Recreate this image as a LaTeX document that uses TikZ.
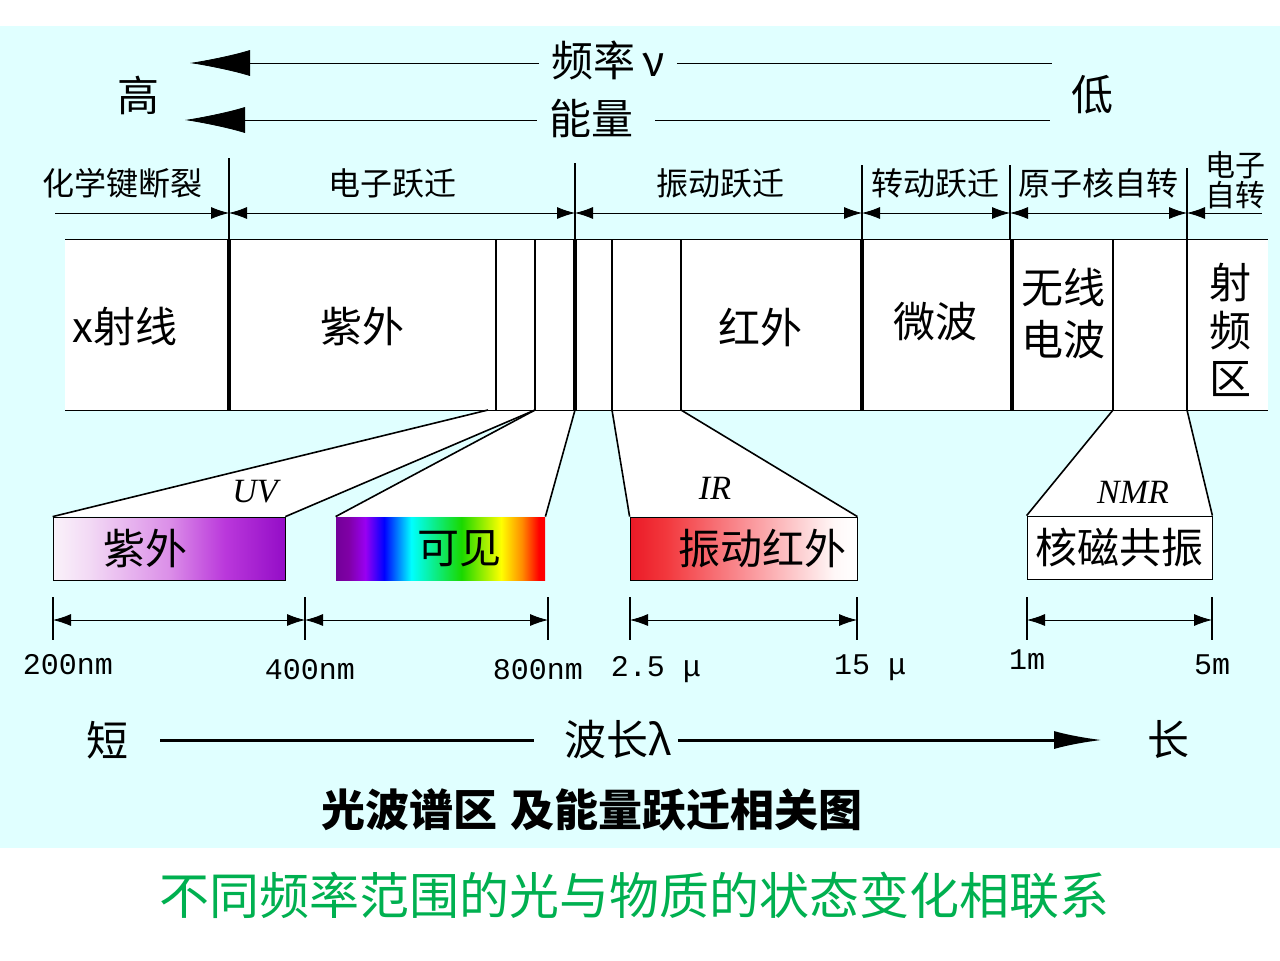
\documentclass[tikz,border=0pt]{standalone}
\usepackage{fontspec}
\setmainfont{Noto Sans CJK SC}
\newfontfamily\numfont{Liberation Mono}
\newfontfamily\tagfont{Liberation Serif}
\usetikzlibrary{arrows.meta,positioning}
\newcommand{\pxUnit}{0.5pt}
\definecolor{skyback}{RGB}{224,255,255}
\definecolor{notegreen}{RGB}{0,176,80}
\pgfdeclarelayer{background}
\pgfsetlayers{background,main}
\pgfdeclarehorizontalshading{uvShade}{100bp}{rgb(0bp)=(0.98,0.95,0.98); rgb(25bp)=(0.98,0.95,0.98); rgb(33bp)=(0.95,0.85,0.96); rgb(50bp)=(0.86,0.56,0.91); rgb(62bp)=(0.73,0.22,0.86); rgb(75bp)=(0.58,0.05,0.78); rgb(100bp)=(0.58,0.05,0.78)}
\pgfdeclarehorizontalshading{visShade}{100bp}{rgb(0bp)=(0.45,0,0.6); rgb(25bp)=(0.45,0,0.6); rgb(28bp)=(0.5,0,0.65); rgb(32bp)=(0.6,0,0.95); rgb(36.5bp)=(0,0,1); rgb(43bp)=(0,1,1); rgb(55bp)=(0.1,0.85,0); rgb(64.5bp)=(1,1,0); rgb(69.5bp)=(1,0.55,0); rgb(73.5bp)=(1,0,0); rgb(100bp)=(1,0,0)}
\pgfdeclarehorizontalshading{irShade}{100bp}{rgb(0bp)=(0.92,0.1,0.15); rgb(25bp)=(0.92,0.1,0.15); rgb(33bp)=(0.95,0.22,0.24); rgb(50bp)=(0.98,0.56,0.58); rgb(70bp)=(1,0.97,0.97); rgb(75bp)=(1,1,1); rgb(100bp)=(1,1,1)}

\begin{document}
\begin{tikzpicture}[x=\pxUnit, y=-\pxUnit, line width=1pt,
		every node/.style={inner sep=0pt},
		word/.style={font=\fontsize{21}{26}\selectfont},
		section/.style={font=\fontsize{16}{15}\selectfont, align=center},
		tagtext/.style={font=\tagfont\itshape\fontsize{17}{17}\selectfont},
		numtext/.style={font=\numfont\fontsize{15}{15}\selectfont},
		band/.style={draw, minimum height=31.5pt, font=\fontsize{21}{26}\selectfont},
		thinwall/.style={line width=0.8pt},
		thickwall/.style={line width=2.2pt},
		dimline/.style={{Latex[length=9pt,width=6pt]}-{Latex[length=9pt,width=6pt]}},
		dimright/.style={-{Latex[length=9pt,width=6pt]}},
		dimleft/.style={{Latex[length=9pt,width=6pt]}-},
		bigtip/.style={-{Latex[length=30pt,width=13pt]}}]
	\useasboundingbox (0,0) rectangle (1280,960);
	\begin{pgfonlayer}{background}
		\fill[white] (0,0) rectangle (1280,960);
		\fill[skyback] (0,26) rectangle (1280,848);
		\fill[white] (65,239) rectangle (1268,410);
	\end{pgfonlayer}

	% frequency and energy
	\node[word] (high) at (138,95) {高};
	\node[word] (low) at (1092,95) {低};
	\node[word, inner sep=6pt] (freq) at (608,60) {频率\,ν};
	\node[word, inner sep=6pt] (energy) at (591,118) {能量};
	\coordinate (freqtip) at (190,63);
	\coordinate (freqend) at (1052,63);
	\coordinate (energytip) at (185,120);
	\coordinate (energyend) at (1050,120);
	\draw[bigtip] (freq.west |- freqtip) -- (freqtip);
	\draw (freq.east |- freqend) -- (freqend);
	\draw[bigtip] (energy.west |- energytip) -- (energytip);
	\draw ([xshift=5pt]energy.east |- energyend) -- (energyend);

	% transitions
	\foreach \x/\top in {229/158,575/163,862/165,1010/165,1187/168}
		\draw[thinwall] (\x,\top) -- (\x,239);
	\foreach \n/\x in {0/55,1/229,2/575,3/862,4/1010,5/1187,6/1262}
		\coordinate (a\n) at (\x,213);
	\draw[dimright] (a0) -- (a1);
	\foreach \i/\j in {1/2,2/3,3/4,4/5}
		\draw[dimline] (a\i) -- (a\j);
	\draw[dimleft] (a5) -- (a6);
	\node[section] (bond) at (122,183) {化学键断裂};
	\node[section] (elec) at (392,183) {电子跃迁};
	\node[section] (vib) at (720,183) {振动跃迁};
	\node[section] (rot) at (935,183) {转动跃迁};
	\node[section] (nucspin) at (1098,183) {原子核自转};
	\node[section, font=\fontsize{15}{15}\selectfont] (elecspin) at (1235,180) {电子\\自转};

	% spectrum bar
	\draw (65,239) -- (1268,239);
	\draw (65,410) -- (1268,410);
	\foreach \x in {229,575,862,1012}
		\draw[thickwall] (\x,239) -- (\x,410);
	\foreach \x in {496,535,612,681,1113,1187}
		\draw[thinwall] (\x,239) -- (\x,410);
	\node[word] (xray) at (125,327) {x射线};
	\node[word] (uv) at (362,327) {紫外};
	\node[word] (ir) at (760,327) {红外};
	\node[word] (micro) at (935,322) {微波};
	\node[word, align=center, font=\fontsize{21}{26}\selectfont] (radio) at (1063,314) {无线\\电波};
	\node[word, align=center, font=\fontsize{21}{24}\selectfont] (rf) at (1230,330) {射\\频\\区};

	% enlarged bands
	\node[band, minimum width=116pt, shading=uvShade] (uvbox) at (169,548.5) {紫外\hspace*{24pt}};
	\node[band, draw=none, minimum width=104.5pt, shading=visShade] (visbox) at (440.5,548.5) {\hspace*{19pt}可见};
	\node[band, minimum width=113.5pt, shading=irShade] (irbox) at (743.5,548.5) {\hspace*{19pt}振动红外};
	\node[band, minimum width=92.5pt, fill=white] (nmrbox) at (1119.5,547.5) {核磁共振};
	\coordinate (u0) at (488,410);
	\coordinate (u1) at (535,410);
	\coordinate (v1) at (575,410);
	\coordinate (i0) at (612,410);
	\coordinate (i1) at (681,410);
	\coordinate (n0) at (1113,410);
	\coordinate (n1) at (1187,410);
	\begin{pgfonlayer}{background}
		\fill[white] (u0) -- (u1) -- (uvbox.north east) -- (uvbox.north west) -- cycle;
		\fill[white] (u1) -- (v1) -- (visbox.north east) -- (visbox.north west) -- cycle;
		\fill[white] (i0) -- (i1) -- (irbox.north east) -- (irbox.north west) -- cycle;
		\fill[white] (n0) -- (n1) -- (nmrbox.north east) -- (nmrbox.north west) -- cycle;
	\end{pgfonlayer}
	\draw[thinwall] (u0) -- (uvbox.north west);
	\draw[thinwall] (u1) -- (uvbox.north east);
	\draw[thinwall] (u1) -- (visbox.north west);
	\draw[thinwall] (v1) -- (visbox.north east);
	\draw[thinwall] (i0) -- (irbox.north west);
	\draw[thinwall] (i1) -- (irbox.north east);
	\draw[thinwall] (n0) -- (nmrbox.north west);
	\draw[thinwall] (n1) -- (nmrbox.north east);
	\node[tagtext] (uvtag) at (255,492) {UV};
	\node[tagtext] (irtag) at (715,488) {IR};
	\node[tagtext] (nmrtag) at (1133,492) {NMR};

	% wavelength ranges
	\foreach \x in {53,305,548,630,857,1027,1212} {
		\draw[thinwall] (\x,597) -- (\x,640);
		\coordinate (d\x) at (\x,620);
	}
	\draw[dimline] (d53) -- (d305);
	\draw[dimline] (d305) -- (d548);
	\draw[dimline] (d630) -- (d857);
	\draw[dimline] (d1027) -- (d1212);
	\node[numtext] (w200) at (68,665) {200nm};
	\node[numtext] (w400) at (310,670) {400nm};
	\node[numtext] (w800) at (538,670) {800nm};
	\node[numtext] (w25) at (656,670) {2.5 μ};
	\node[numtext] (w15) at (870,668) {15 μ};
	\node[numtext] (w1m) at (1027,660) {1m};
	\node[numtext] (w5m) at (1212,665) {5m};

	% wavelength axis
	\node[word] (short) at (107,740) {短};
	\node[word] (wave) at (618,740) {波长λ};
	\node[word] (long) at (1168,740) {长};
	\coordinate (wl0) at (160,740);
	\coordinate (wl1) at (1102,740);
	\draw[line width=1.5pt] (wl0) -- ([xshift=-15pt]wave.west);
	\draw[line width=1.5pt, -{Latex[length=24pt,width=9pt]}] ([xshift=3pt]wave.east) -- (wl1);

	\node[font=\bfseries\fontsize{22}{26}\selectfont] (title) at (592,810) {光波谱区\hspace{0.3em}及能量跃迁相关图};
	\node[text=notegreen, font=\fontsize{25}{30}\selectfont] (note) at (634,895) {不同频率范围的光与物质的状态变化相联系};
\end{tikzpicture}
\end{document}
